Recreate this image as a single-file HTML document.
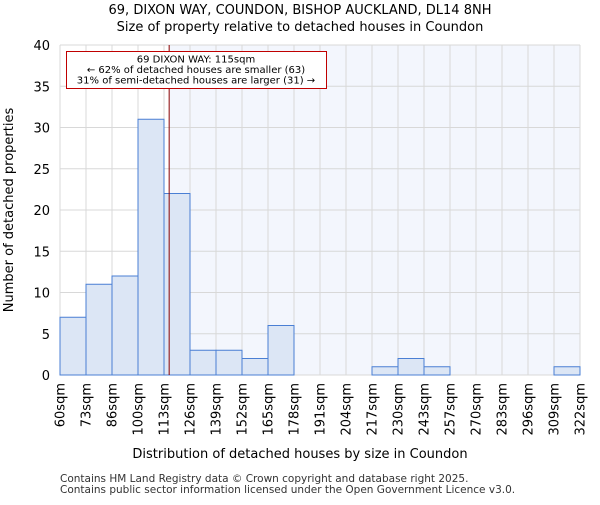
<!DOCTYPE html>
<html><head><meta charset="utf-8"><style>body{margin:0;background:#fff}svg{font-family:"DejaVu Sans","Liberation Sans",sans-serif}</style></head>
<body>
<svg id="chart" width="600" height="500">
<text x="300" y="14" text-anchor="middle" font-size="13">69, DIXON WAY, COUNDON, BISHOP AUCKLAND, DL14 8NH</text>
<text x="300" y="31" text-anchor="middle" font-size="13">Size of property relative to detached houses in Coundon</text>
<g id="plot"></g>
<text x="300" y="458" text-anchor="middle" font-size="13">Distribution of detached houses by size in Coundon</text>
<text transform="translate(13,210) rotate(-90)" text-anchor="middle" font-size="13">Number of detached properties</text>
<text x="60" y="482" font-size="10.5" fill="#333">Contains HM Land Registry data © Crown copyright and database right 2025.</text>
<text x="60" y="493" font-size="10.5" fill="#333">Contains public sector information licensed under the Open Government Licence v3.0.</text>
</svg>
<script>
const tickLabels=["60sqm","73sqm","86sqm","100sqm","113sqm","126sqm","139sqm","152sqm","165sqm","178sqm","191sqm","204sqm","217sqm","230sqm","243sqm","257sqm","270sqm","283sqm","296sqm","309sqm","322sqm"];
const counts=[7,11,12,31,22,3,3,2,6,0,0,0,1,2,1,0,0,0,0,1];
const yTicks=[0,5,10,15,20,25,30,35,40];
const minSize=60, maxSize=322, subjectSize=115;
const X0=60,X1=580,Y0=375,Y1=45,yMax=40;
const xs=v=>X0+(v-minSize)/(maxSize-minSize)*(X1-X0);
const xi=i=>X0+i*(X1-X0)/counts.length;
const ys=v=>Y0-v/yMax*(Y0-Y1);
const NS="http://www.w3.org/2000/svg";
const g=document.getElementById('plot');
function mk(t,a){const e=document.createElementNS(NS,t);for(const k in a)e.setAttribute(k,a[k]);g.appendChild(e);return e;}
const rx=xs(subjectSize);
let e=mk('rect',{x:rx,y:Y1,width:X1-rx,height:Y0-Y1,fill:'#f3f6fd'});


yTicks.forEach(v=>{
 let l=mk('line',{x1:X0,x2:X1,y1:ys(v),y2:ys(v),stroke:'#d8d8d8','stroke-width':1});
 
 
 let t=mk('text',{x:50,y:ys(v)+5,'text-anchor':'end','font-size':13});
 t.textContent=v;
 
 
});
tickLabels.forEach((s,i)=>{
 const x=xi(i);
 let l=mk('line',{x1:x,x2:x,y1:Y1,y2:Y0,stroke:'#d8d8d8','stroke-width':1});
 
 
 let t=mk('text',{transform:`translate(${x+4.5},383) rotate(-90)`,'text-anchor':'end','font-size':13});
 t.textContent=s;
 
 
});
counts.forEach((c,i)=>{
 if(!c)return;
 let b=mk('rect',{x:xi(i),y:ys(c),width:xi(i+1)-xi(i),height:Y0-ys(c),fill:'#dce6f5',stroke:'#4a7fd4','stroke-width':1});
 
 
});
e=mk('line',{x1:rx,x2:rx,y1:Y1,y2:Y0,stroke:'#8b0000','stroke-width':1});


e=mk('rect',{x:66.5,y:51.5,width:260,height:37,fill:'#fff',stroke:'#c00000','stroke-width':1});


["69 DIXON WAY: 115sqm","← 62% of detached houses are smaller (63)","31% of semi-detached houses are larger (31) →"].forEach((s,i)=>{
 let t=mk('text',{x:196,y:62.5+i*10.5,'text-anchor':'middle','font-size':10});
 t.textContent=s;
 
 
});
</script>
</body></html>
